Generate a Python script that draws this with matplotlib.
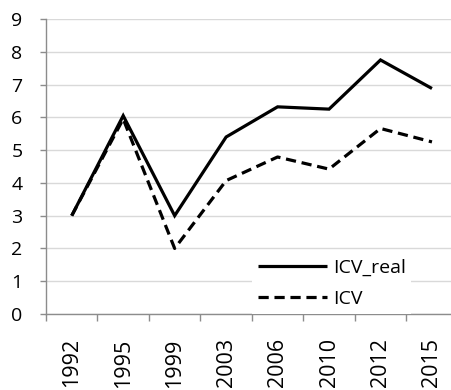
import matplotlib
matplotlib.use("Agg")
import matplotlib.pyplot as plt
import numpy as np

years = ["1992", "1995", "1999", "2003", "2006", "2010", "2012", "2015"]
icv_real = [3.0, 6.05, 3.0, 5.4, 6.32, 6.25, 7.75, 6.88]
icv = [3.0, 5.95, 2.0, 4.07, 4.79, 4.42, 5.66, 5.25]

plt.rcParams['font.family'] = ['Open Sans', 'DejaVu Sans']

W, H = 451, 390
fig = plt.figure(figsize=(W / 100, H / 100), dpi=100)

x0, x1 = 46, 457.7
y0, y1 = 314, 19
ax = fig.add_axes([x0 / W, (H - y0) / H, (x1 - x0) / W, (y0 - y1) / H])

x = np.arange(len(years))
ax.plot(x, icv_real, color="black", lw=2.3, label="ICV_real", solid_capstyle="butt",
        solid_joinstyle="miter")
ax.plot(x, icv, color="black", lw=2.3, ls=(0, (3.2, 1.8)), label="ICV",
        dash_capstyle="butt")

ax.set_xlim(-0.5, len(years) - 0.5)
ax.set_ylim(0, 9)
ax.set_yticks(range(0, 10))
ax.grid(axis="y", color="#d9d9d9", lw=1)
ax.set_axisbelow(True)

for s in ("top", "right"):
    ax.spines[s].set_visible(False)
for s in ("left", "bottom"):
    ax.spines[s].set_color("#8c8c8c")
    ax.spines[s].set_linewidth(1)

ax.set_xticks(x)
ax.set_xticklabels(years, rotation=90, fontsize=15.5)
ax.set_xticks(np.arange(-0.5, len(years)), minor=True)
ax.tick_params(axis="x", which="major", length=0, pad=17.5)
ax.tick_params(axis="x", which="minor", length=5, color="#8c8c8c", width=1)
ax.tick_params(axis="y", length=4.5, color="#8c8c8c", width=1, pad=12.5, labelsize=14)

leg = ax.legend(loc="upper left", bbox_to_anchor=(252 / W, (H - 253) / H),
                bbox_transform=fig.transFigure, frameon=True, fancybox=False,
                edgecolor="none", facecolor="white", framealpha=1, fontsize=14,
                handlelength=3.55, handletextpad=0.3, labelspacing=0.66, borderaxespad=0,
                borderpad=0.3)

fig.savefig("out.png", dpi=100)
